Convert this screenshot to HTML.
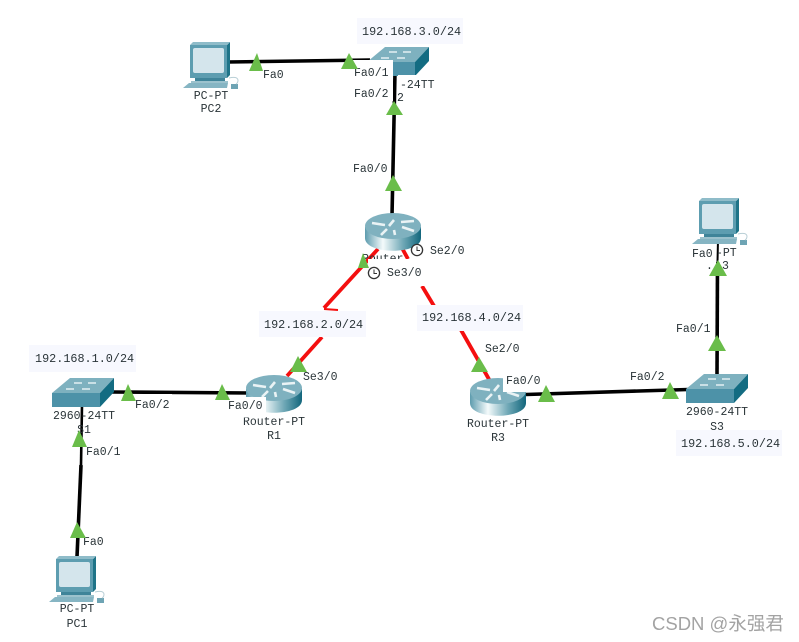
<!DOCTYPE html>
<html><head><meta charset="utf-8"><style>
html,body{margin:0;padding:0;background:#fff}
svg{display:block}
text{font-family:"Liberation Mono","Noto Serif CJK SC",monospace;font-size:11.5px;fill:#2a3438}
.n{font-size:11.8px}
.m{text-anchor:middle}
.w{font-family:"Liberation Sans","Noto Sans CJK SC",sans-serif;font-size:18.5px;fill:#a3a3a3}
</style></head><body>
<svg width="799" height="642" viewBox="0 0 799 642" xmlns="http://www.w3.org/2000/svg">
<defs>
<linearGradient id="rg" x1="0" x2="1" y1="0" y2="0">
<stop offset="0" stop-color="#5d9cae"/><stop offset=".32" stop-color="#f4fafb"/><stop offset=".68" stop-color="#6fa8b6"/><stop offset="1" stop-color="#12667c"/>
</linearGradient>
<g id="pc">
<polygon points="9,3 44,3 47,0 47,33 44,36 9,36" fill="#1f7488"/>
<rect x="7" y="3" width="37" height="33" fill="#5d9db0"/>
<polygon points="7,3 10,0 47,0 44,3" fill="#8fbcc9"/>
<rect x="10" y="6" width="31" height="25" rx="2" fill="#d4e5ec"/>
<rect x="12" y="36" width="30" height="3" fill="#3f8499"/>
<rect x="8" y="39" width="37" height="2" fill="#9cc2cd"/>
<polygon points="0,46 6,41 45,41 44,46" fill="#86b5c3"/>
<rect x="48" y="42" width="7" height="5" fill="#6ea4b4"/>
<path d="M46 36 q8 -2 9 2 q0 3 -2 4" fill="none" stroke="#b9cfd6" stroke-width="1"/>
</g>
<g id="sw">
<polygon points="0,15 18,0 62,0 48,15" fill="#7eb1bf"/>
<rect x="0" y="15" width="48" height="14" fill="#4d92a8"/>
<polygon points="48,15 62,0 62,14 48,29" fill="#136c82"/>
<path d="M22 5h8M36 5h8M14 11h8M30 11h8" stroke="#e4f0f3" stroke-width="1.6"/>
</g>
<g id="rt">
<path d="M0 14 V25 C0 42 56 42 56 25 V14 Z" fill="url(#rg)"/>
<ellipse cx="28" cy="13" rx="28" ry="13" fill="#7fb1bf"/>
<path d="M7 10l13 2M29 7l-5 6M36 9l13-1M37 14l12 4M22 16l-6 6M29 17l1 5" stroke="#eaf3f5" stroke-width="2.6" fill="none"/>
</g>
</defs>
<rect width="799" height="642" fill="#fff"/>

<!-- black links -->
<g stroke="#000" stroke-width="3.6" fill="none">
<line x1="228" y1="62" x2="370" y2="60"/>
<line x1="395" y1="72" x2="392" y2="216"/>
<line x1="526" y1="394.5" x2="688" y2="389.5"/>
<line x1="112" y1="392" x2="250" y2="393"/>
<line x1="82" y1="405" x2="81" y2="465" stroke-width="2.6"/>
<line x1="81" y1="465" x2="77" y2="557"/>
<line x1="717" y1="376" x2="717.5" y2="262"/>
<line x1="717.5" y1="262" x2="718" y2="240" stroke-width="2"/>
</g>
<!-- red links -->
<g stroke="#f40f0f" stroke-width="3.8" fill="none">
<line x1="378" y1="249" x2="324" y2="308"/>
<line x1="322" y1="337" x2="287" y2="376"/>
<line x1="402" y1="248" x2="408" y2="259"/>
<line x1="422" y1="286" x2="434" y2="306"/>
<line x1="461" y1="330" x2="490" y2="381"/>
<line x1="324" y1="309" x2="338" y2="310" stroke-width="2"/>
</g>

<!-- devices -->
<use href="#pc" x="183" y="42"/>
<use href="#pc" x="49" y="556"/>
<use href="#pc" x="692" y="198"/>
<use href="#sw" x="367" y="47"/>
<use href="#sw" x="52" y="378"/>
<use href="#sw" x="686" y="374"/>
<use href="#rt" x="365" y="213"/>
<use href="#rt" x="246" y="375"/>
<use href="#rt" x="470" y="378"/>

<!-- white label masks -->
<g fill="#fff">
<rect x="352" y="60" width="41" height="41"/>
<rect x="398" y="75" width="32" height="26"/>
<rect x="261" y="64" width="26" height="16"/>
<rect x="350" y="162" width="40" height="14"/>
<rect x="368" y="259" width="58" height="27"/>
<rect x="424" y="243" width="44" height="14"/>
<rect x="224" y="397" width="42" height="16"/>
<rect x="503" y="373" width="42" height="19"/>
<rect x="302" y="369" width="38" height="14"/>
<rect x="483" y="341" width="38" height="14"/>
<rect x="241" y="413" width="66" height="28"/>
<rect x="130" y="394" width="42" height="16"/>
<rect x="690" y="246" width="26" height="25"/>
<rect x="719" y="246" width="18" height="14"/>
</g>

<!-- net label boxes -->
<g fill="#f7f8fe">
<rect x="357" y="18" width="106" height="26"/>
<rect x="259" y="311" width="107" height="26"/>
<rect x="417" y="305" width="106" height="26"/>
<rect x="29" y="345" width="107" height="27"/>
<rect x="676" y="430" width="106" height="26"/>
</g>

<!-- text -->
<text class="n" x="362" y="35">192.168.3.0/24</text>
<text class="n" x="264" y="328">192.168.2.0/24</text>
<text class="n" x="422" y="321">192.168.4.0/24</text>
<text class="n" x="35" y="362">192.168.1.0/24</text>
<text class="n" x="681" y="447">192.168.5.0/24</text>

<text x="263" y="78">Fa0</text>
<text x="354" y="76">Fa0/1</text>
<text x="354" y="97">Fa0/2</text>
<text x="400" y="88">-24TT</text>
<text x="397" y="101">2</text>
<text x="353" y="172">Fa0/0</text>
<text class="m" x="211" y="99">PC-PT</text>
<text class="m" x="211" y="112">PC2</text>

<text x="430" y="254">Se2/0</text>
<text x="387" y="276">Se3/0</text>
<text x="303" y="380">Se3/0</text>
<text x="485" y="352">Se2/0</text>
<text x="506" y="384">Fa0/0</text>
<text x="630" y="380">Fa0/2</text>
<text x="676" y="332">Fa0/1</text>
<text x="692" y="257">Fa0</text>
<text x="716" y="256">-PT</text>
<text x="706" y="269">.</text>
<text x="722" y="269">3</text>

<text class="m" x="717" y="415">2960-24TT</text>
<text class="m" x="717" y="430">S3</text>
<text class="m" x="84" y="419">2960-24TT</text>
<text class="m" x="84" y="433">S1</text>
<text x="135" y="408">Fa0/2</text>
<text x="86" y="455">Fa0/1</text>
<text x="83" y="545">Fa0</text>
<text x="228" y="409">Fa0/0</text>
<text class="m" x="274" y="425">Router-PT</text>
<text class="m" x="274" y="439">R1</text>
<rect x="241" y="415" width="9" height="2.5" fill="#fff"/>
<text class="m" x="498" y="427">Router-PT</text>
<text class="m" x="498" y="441">R3</text>
<text class="m" x="77" y="612">PC-PT</text>
<text class="m" x="77" y="627">PC1</text>

<svg x="360" y="250" width="50" height="9" viewBox="360 250 50 9"><text x="362" y="262">Router</text></svg>

<!-- triangles -->
<g fill="#6abd4a">
<polygon points="257,53 249,71 263,71"/>
<polygon points="349,53 341,69 358,69"/>
<polygon points="394,101 386,115 403,115"/>
<polygon points="393,175 385,191 402,191"/>
<polygon points="363,253 358,268 369,268"/>
<polygon points="298,356 290,372 307,372"/>
<polygon points="479,357 471,372 488,372"/>
<polygon points="546,385 538,402 555,402"/>
<polygon points="670,382 662,399 679,399"/>
<polygon points="717,335 708,351 726,351"/>
<polygon points="718,260 709,276 727,276"/>
<polygon points="128,384 121,401 136,401"/>
<polygon points="222,384 215,400 230,400"/>
<polygon points="79,430 72,447 87,447"/>
<polygon points="77,522 70,538 86,538"/>
</g>

<!-- clocks -->
<g fill="#fff" stroke="#333" stroke-width="1.3">
<circle cx="417" cy="250" r="5.6"/>
<circle cx="374" cy="273" r="5.6"/>
<path d="M417 246.5V250.5H420M374 269.5V273.5H377" fill="none" stroke-width="1"/>
</g>

<text class="w" x="652" y="630">CSDN @永强君</text>
</svg>
</body></html>
